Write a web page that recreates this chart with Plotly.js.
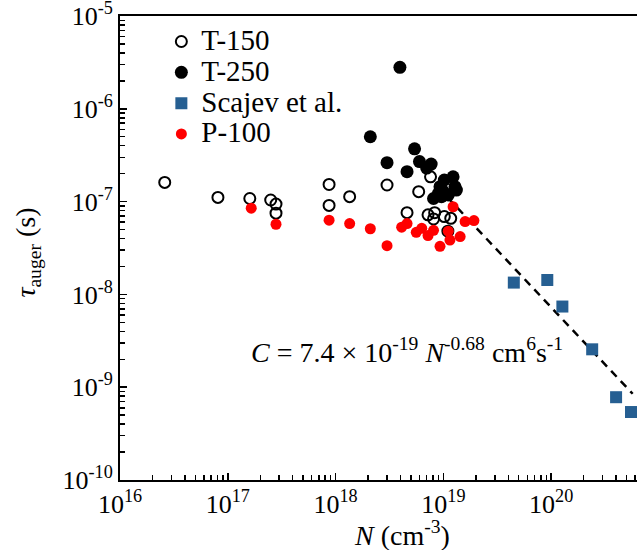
<!DOCTYPE html>
<html>
<head>
<meta charset="utf-8">
<script src="https://cdn.plot.ly/plotly-3.0.1.min.js"></script>
<style>html,body{margin:0;padding:0;background:#fff;}#chart{width:637px;height:550px;}</style>
</head>
<body>
<div id="chart"></div>
<script>
// T-150 (open circles)
const t150N   = [2.6e16, 8.1e16, 1.6e17, 2.5e17, 2.8e17, 2.8e17, 8.7e17, 8.7e17, 1.35e18, 3.0e18, 5.9e18, 7.6e18, 4.6e18, 7.2e18, 8.3e18, 8.1e18, 1.02e19, 1.17e19, 1.1e19];
const t150Tau = [1.61e-7, 1.11e-7, 1.08e-7, 1.04e-7, 9.4e-8, 7.5e-8, 1.53e-7, 9.1e-8, 1.13e-7, 1.51e-7, 1.28e-7, 1.85e-7, 7.6e-8, 7.2e-8, 7.6e-8, 6.5e-8, 6.9e-8, 6.6e-8, 4.8e-8];
// T-250 (filled black circles)
const t250N   = [2.1e18, 3.95e18, 3.0e18, 4.6e18, 5.4e18, 6.0e18, 7.7e18, 7.0e18, 1.23e19, 1.02e19, 9.3e18, 1.28e19, 9.0e18, 1.11e19, 1.32e19, 8.1e18, 9.6e18, 9.9e18];
const t250Tau = [5.0e-7, 2.8e-6, 2.63e-7, 2.1e-7, 3.7e-7, 2.7e-7, 2.54e-7, 2.3e-7, 1.85e-7, 1.71e-7, 1.45e-7, 1.45e-7, 1.23e-7, 1.18e-7, 1.33e-7, 1.08e-7, 1.13e-7, 1.3e-7];
// Scajev et al. (squares)
const scajevN   = [4.5e19, 9.2e19, 1.27e20, 2.4e20, 4.0e20, 5.5e20];
const scajevTau = [1.34e-8, 1.43e-8, 7.4e-9, 2.56e-9, 7.8e-10, 5.4e-10];
// P-100 (red circles)
const p100N   = [1.65e17, 2.8e17, 8.7e17, 1.35e18, 2.1e18, 3.0e18, 4.1e18, 4.6e18, 5.6e18, 6.3e18, 7.2e18, 8.1e18, 9.3e18, 1.11e19, 1.15e19, 1.43e19, 1.59e19, 1.92e19, 1.23e19];
const p100Tau = [8.5e-8, 5.7e-8, 6.3e-8, 5.8e-8, 5.1e-8, 3.35e-8, 5.3e-8, 5.8e-8, 4.67e-8, 5.15e-8, 4.3e-8, 4.9e-8, 3.3e-8, 4.8e-8, 3.85e-8, 4.2e-8, 6.1e-8, 6.25e-8, 8.8e-8];
// Fit line endpoints
const fitN   = [1.1e19, 5.7e20];
const fitTau = [1.1e-7, 8.5e-10];

const seriesNames = ['T-150', 'T-250', 'Scajev et al.', 'P-100'];
const xTickVals = [1e16, 1e17, 1e18, 1e19, 1e20];
const xTickText = ['10<sup>16</sup>', '10<sup>17</sup>', '10<sup>18</sup>', '10<sup>19</sup>', '10<sup>20</sup>'];
const yTickVals = [1e-10, 1e-9, 1e-8, 1e-7, 1e-6, 1e-5];
const yTickText = ['10<sup>-10</sup>', '10<sup>-9</sup>', '10<sup>-8</sup>', '10<sup>-7</sup>', '10<sup>-6</sup>', '10<sup>-5</sup>'];

function minorVals(lo, hi) {
  const v = [];
  for (let e = lo; e < hi; e++) for (let k = 2; k <= 9; k++) v.push(k * Math.pow(10, e));
  return v;
}

const FONT = 'Times New Roman';
const sp = (size, s) => '<span style="font-family:Times New Roman;font-size:' + size + 'px">' + s + '</span>';

const traces = [
  {x: fitN, y: fitTau, mode: 'lines', line: {color: '#000', width: 2.5, dash: '8px,6px'}, showlegend: false, hoverinfo: 'skip'},
  {x: t150N, y: t150Tau, mode: 'markers', name: sp(29, seriesNames[0]),
   marker: {symbol: 'circle-open', size: 11, color: '#000', line: {width: 2, color: '#000'}}},
  {x: t250N, y: t250Tau, mode: 'markers', name: sp(29, seriesNames[1]),
   marker: {symbol: 'circle', size: 13, color: '#000'}},
  {x: scajevN, y: scajevTau, mode: 'markers', name: sp(29, seriesNames[2]),
   marker: {symbol: 'square', size: 12, color: '#265f92'}},
  {x: p100N, y: p100Tau, mode: 'markers', name: sp(29, seriesNames[3]),
   marker: {symbol: 'circle', size: 11, color: '#ff0000'}}
];

const layout = {
  width: 637, height: 550,
  margin: {l: 120, r: 0, t: 16, b: 70},
  paper_bgcolor: '#fff', plot_bgcolor: '#fff',
  font: {family: FONT, size: 26, color: '#000'},
  showlegend: true,
  legend: {x: 0.08, y: 0.989, xanchor: 'left', yanchor: 'top', bgcolor: 'rgba(0,0,0,0)',
           font: {family: FONT, size: 21.4, color: '#000'}, tracegroupgap: 0},
  xaxis: {type: 'log', range: [16, 20.796], showgrid: false, zeroline: false,
          showline: true, linewidth: 2, linecolor: '#000', mirror: true,
          ticks: 'inside', ticklen: 7, tickwidth: 1.5, tickcolor: '#000',
          tickmode: 'array', tickvals: xTickVals, ticktext: xTickText, ticklabeloverflow: 'allow',
          tickfont: {family: FONT, size: 26},
          minor: {tickmode: 'array', tickvals: minorVals(16, 21), ticks: 'inside', ticklen: 5, tickwidth: 1.5, tickcolor: '#000', showgrid: false}},
  yaxis: {type: 'log', range: [-10, -5], showgrid: false, zeroline: false,
          showline: true, linewidth: 2, linecolor: '#000', mirror: false,
          ticks: 'inside', ticklen: 7, tickwidth: 1.5, tickcolor: '#000',
          tickmode: 'array', tickvals: yTickVals, ticktext: yTickText, ticklabeloverflow: 'allow',
          tickfont: {family: FONT, size: 26},
          minor: {tickmode: 'array', tickvals: minorVals(-10, -5), ticks: 'inside', ticklen: 5, tickwidth: 1.5, tickcolor: '#000', showgrid: false}},
  annotations: [
    {xref: 'paper', yref: 'paper', x: 0.25, y: 0.28, xanchor: 'left', yanchor: 'middle', showarrow: false,
     text: sp(28, '<i>C</i> = 7.4 × 10<sup>-19</sup> <i>N</i><sup>-0.68</sup> cm<sup>6</sup>s<sup>-1</sup>'),
     font: {family: FONT, size: 28, color: '#000'}},
    {xref: 'paper', yref: 'paper', x: 0.545, y: -0.115, xanchor: 'center', yanchor: 'middle', showarrow: false,
     text: sp(28, '<i>N</i> (cm<sup>-3</sup>)'), font: {family: FONT, size: 28, color: '#000'}},
    {xref: 'paper', yref: 'paper', x: -0.178, y: 0.49, xanchor: 'center', yanchor: 'middle', showarrow: false, textangle: -90,
     text: sp(28, '<i>τ</i><sub>auger</sub> (s)'), font: {family: FONT, size: 28, color: '#000'}}
  ]
};

Plotly.newPlot('chart', traces, layout, {staticPlot: true, displayModeBar: false});
</script>
</body>
</html>
